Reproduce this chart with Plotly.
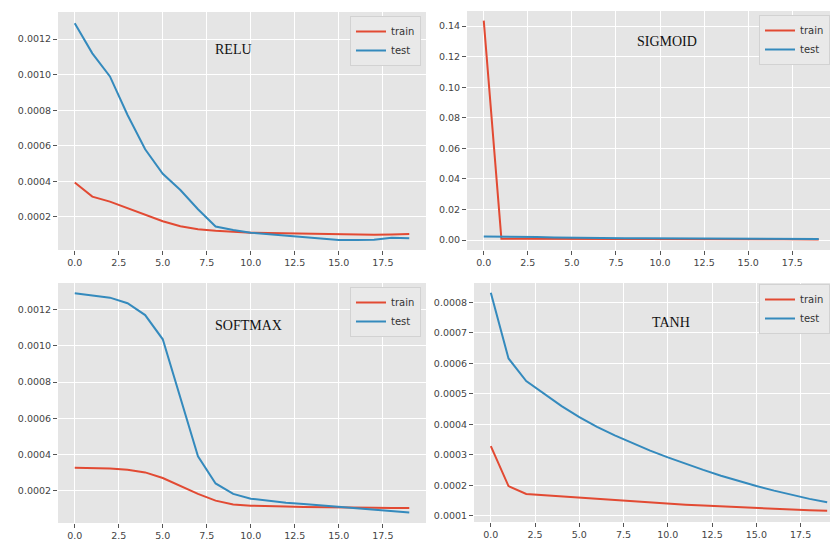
import plotly.graph_objects as go

# Loss per epoch for each activation function
epochs = list(range(20))

relu_train = [0.000393, 0.000313, 0.000285, 0.000247, 0.000210, 0.000174, 0.000146, 0.000129,
              0.000121, 0.000114, 0.000110, 0.000108, 0.000106, 0.000104, 0.000102, 0.000102,
              0.000102, 0.000099, 0.000100, 0.000102]
relu_test = [0.001290, 0.001120, 0.000990, 0.000773, 0.000580, 0.000442, 0.000350, 0.000242,
             0.000145, 0.000125, 0.000110, 0.000102, 0.000093, 0.000084, 0.000076, 0.000069,
             0.000069, 0.000070, 0.000082, 0.000078]

sigmoid_train = [0.1436, 0.0009, 0.0009, 0.0008, 0.0008, 0.0008, 0.0007, 0.0007, 0.0007, 0.0007,
                 0.0006, 0.0006, 0.0006, 0.0006, 0.0005, 0.0005, 0.0005, 0.0005, 0.0004, 0.0004]
sigmoid_test = [0.0023, 0.0023, 0.0021, 0.0019, 0.0017, 0.0015, 0.0014, 0.0013, 0.0012, 0.0012,
                0.0011, 0.0011, 0.0010, 0.0010, 0.0009, 0.0009, 0.0008, 0.0008, 0.0007, 0.0007]

softmax_train = [0.000327, 0.000325, 0.000323, 0.000316, 0.000301, 0.000270, 0.000228, 0.000182,
                 0.000145, 0.000124, 0.000117, 0.000113, 0.000112, 0.000110, 0.000110, 0.000108,
                 0.000106, 0.000106, 0.000104, 0.000104]
softmax_test = [0.001290, 0.001280, 0.001266, 0.001235, 0.001170, 0.001036, 0.000710, 0.000390,
                0.000240, 0.000182, 0.000156, 0.000143, 0.000134, 0.000126, 0.000119, 0.000110,
                0.000102, 0.000095, 0.000088, 0.000080]

tanh_train = [0.000329, 0.000198, 0.000172, 0.000168, 0.000163, 0.000159, 0.000155, 0.000151,
              0.000147, 0.000143, 0.000140, 0.000137, 0.000134, 0.000131, 0.000128, 0.000125,
              0.000123, 0.000121, 0.000119, 0.000117]
tanh_test = [0.000831, 0.000616, 0.000542, 0.000500, 0.000460, 0.000424, 0.000392, 0.000364,
             0.000338, 0.000314, 0.000292, 0.000271, 0.000251, 0.000232, 0.000214, 0.000198,
             0.000183, 0.000169, 0.000156, 0.000145]

panel_names = ["RELU", "SIGMOID", "SOFTMAX", "TANH"]

RED = "#E24A33"
BLUE = "#348ABD"
W, H = 830, 543

# panel layout in pixels: (left, right, top, bottom)
boxes = [(58, 426, 12, 250), (467, 830, 11, 250), (58, 426, 283, 523), (474, 830, 283, 522)]
xranges = [[-0.95, 19.95], [-0.95, 19.64], [-0.95, 19.95], [-0.95, 19.16]]
yranges = [[0.0000124, 0.001353], [-0.00654, 0.1499], [0.0000215, 0.001347], [0.0000803, 0.000863]]
ydticks = [0.0002, 0.02, 0.0002, 0.0001]
yformats = [".4f", ".2f", ".4f", ".4f"]
# legend boxes: (right, top) in pixels
legend_pos = [(421, 16), (830, 15), (421, 287), (830, 284)]
# panel label centres as fractions of each axis domain
label_pos = [(0.476, 0.842), (0.551, 0.872), (0.519, 0.822), (0.5525, 0.834)]

series = [(relu_train, relu_test), (sigmoid_train, sigmoid_test),
          (softmax_train, softmax_test), (tanh_train, tanh_test)]

fig = go.Figure()
layout = dict(
    width=W, height=H,
    margin=dict(l=0, r=0, t=0, b=0),
    paper_bgcolor="white",
    plot_bgcolor="#E5E5E5",
    showlegend=True,
    annotations=[],
)

tickfont = dict(family="DejaVu Sans", size=9.5, color="#444444")

for k, (train, test) in enumerate(series):
    n = "" if k == 0 else str(k + 1)
    leg = "legend" + n
    fig.add_trace(go.Scatter(x=epochs, y=train, mode="lines", name="train",
                             line=dict(color=RED, width=2), xaxis="x" + n, yaxis="y" + n,
                             legend=leg))
    fig.add_trace(go.Scatter(x=epochs, y=test, mode="lines", name="test",
                             line=dict(color=BLUE, width=2), xaxis="x" + n, yaxis="y" + n,
                             legend=leg))
    left, right, top, bottom = boxes[k]
    layout["xaxis" + n] = dict(
        domain=[left / W, right / W], anchor="y" + n, range=xranges[k],
        tick0=0, dtick=2.5, tickformat=".1f",
        showgrid=True, gridcolor="white", gridwidth=1, zeroline=False, showline=False,
        ticks="outside", ticklen=4, tickcolor="#555555", tickfont=tickfont,
    )
    layout["yaxis" + n] = dict(
        domain=[1 - bottom / H, 1 - top / H], anchor="x" + n, range=yranges[k],
        tick0=0, dtick=ydticks[k], tickformat=yformats[k],
        showgrid=True, gridcolor="white", gridwidth=1, zeroline=False, showline=False,
        ticks="outside", ticklen=4, tickcolor="#555555", tickfont=tickfont,
    )
    lx, ly = legend_pos[k]
    layout[leg] = dict(
        x=min(lx / W, 1.0), y=1 - ly / H, xanchor="right", yanchor="top",
        xref="paper", yref="paper",
        bgcolor="#E9E9E9", bordercolor="#D2D2D2", borderwidth=1,
        font=dict(family="DejaVu Sans", size=10, color="#333333"),
        itemwidth=30, tracegroupgap=0,
    )
    ax, ay = label_pos[k]
    layout["annotations"].append(dict(
        text=panel_names[k], x=ax, y=ay, xref="x" + n + " domain", yref="y" + n + " domain",
        xanchor="center", yanchor="middle", showarrow=False,
        font=dict(family="Liberation Serif", size=14, color="#111111"),
    ))

fig.update_layout(**layout)
fig.write_html("out.html")
